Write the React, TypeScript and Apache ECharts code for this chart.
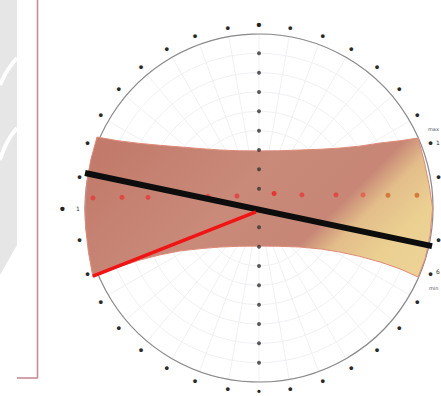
import React, { useEffect, useRef } from "react";
import * as echarts from "echarts";

// Band boundaries (data units, circle radius = 9)
const bandTop: number[][] = [
  [-8.38, 3.67], [-7.3, 3.48], [-6.16, 3.34], [-5.1, 3.24], [-4.09, 3.16], [-3.0, 3.07], [-2.02, 3.0], [-1.0, 2.96], [0, 2.95],
  [1.0, 2.96], [2.12, 3.0], [3.2, 3.04], [4.19, 3.1], [5.2, 3.2], [6.26, 3.36], [7.3, 3.48], [8.23, 3.62],
];
const bandRightEdge: number[][] = [[8.55, 2.4], [8.8, 1.2], [8.98, 0], [8.85, -1.4], [8.6, -2.6]];
const bandBottom: number[][] = [
  [8.23, -3.57], [7.3, -3.15], [6.26, -2.79], [5.2, -2.5], [4.19, -2.28], [3.2, -2.12], [2.12, -2.02], [1.0, -1.98], [0, -1.97],
  [-1.0, -1.98], [-2.02, -2.02], [-3.0, -2.1], [-4.09, -2.22], [-5.1, -2.42], [-6.16, -2.69], [-7.4, -3.1], [-8.59, -3.57],
];
const bandLeftEdge: number[][] = [[-8.82, -2.3], [-8.97, -1.0], [-9.0, 0], [-8.92, 1.2], [-8.7, 2.5]];

// Lines
const blackLine: number[][] = [[-9.0, 1.81], [8.95, -1.97]];
const redLine: number[][] = [[-8.59, -3.52], [-0.16, -0.2]];

// Red points
const redPointX = [-8.59, -7.09, -5.74, -2.64, -1.14, 0.78, 2.22, 3.98, 5.38, 6.67, 8.17];
const redPointY = [0.52, 0.55, 0.55, 0.6, 0.62, 0.75, 0.68, 0.68, 0.68, 0.66, 0.66];
const redPointColor = ["#e63a3a", "#e63a3a", "#e63a3a", "#e63a3a", "#e63a3a", "#ee2020", "#e63a3a", "#e63a3a", "#e25a4a", "#cf6a2a", "#cf6a2a"];

// Centre axis tick dots
const axisDots = [-8, -7, -6, -5, -4, -3, -2, -1, 1, 2, 3, 4, 5, 6, 7, 8];

// Outer angle labels
const angleLabelText = "•";
const hiddenAngles = [90, 360];

export default function App() {
  const ref = useRef<HTMLDivElement>(null);
  useEffect(() => {
    if (!ref.current) return;
    const chart = echarts.init(ref.current, null, { renderer: "svg" });
    const cx = 259, cy = 208, R = 174;
    const gradient = new echarts.graphic.LinearGradient(150, 100, 450, 400, [
      { offset: 0, color: "#c27a6a" },
      { offset: 0.3, color: "#c98a7a" },
      { offset: 0.49, color: "#c78676" },
      { offset: 0.55, color: "#e3bd8a" },
      { offset: 0.64, color: "#ebd092" },
      { offset: 1, color: "#efd9a0" },
    ], true);
    chart.setOption({
      animation: false,
      backgroundColor: "#ffffff",
      polar: { center: [cx, cy], radius: R },
      angleAxis: {
        type: "value", min: 0, max: 360, interval: 10, startAngle: 90, clockwise: true,
        axisLine: { show: true, lineStyle: { color: "#8a8a8a", width: 1.2 } },
        axisTick: { show: false },
        splitLine: { show: true, lineStyle: { color: "#ececf2", width: 0.8 } },
        axisLabel: {
          show: true, margin: 6, color: "#2a2a2a", fontSize: 13, fontWeight: "bold", lineHeight: 7,
          formatter: (v: number) => {
            if (hiddenAngles.indexOf(v) >= 0) return "";
            if (v === 270) return "{w|" + angleLabelText + "}";
            if (v === 0) return "{c|" + angleLabelText + "}";
            if (v === 180) return "{s|" + angleLabelText + "}";
            return angleLabelText;
          },
          rich: {
            c: { fontSize: 15, fontWeight: "bold", color: "#222", lineHeight: 8 },
            w: { fontSize: 15, fontWeight: "bold", color: "#222", lineHeight: 8, padding: [0, 14, 0, 0] },
            s: { fontSize: 11, fontWeight: "bold", color: "#222", lineHeight: 6 },
          },
        },
      },
      radiusAxis: {
        type: "value", min: 0, max: 9, interval: 1,
        axisLine: { show: false }, axisTick: { show: false }, axisLabel: { show: false },
        splitLine: { show: true, lineStyle: { color: "#ececf2", width: 0.8 } },
      },
      grid: { left: cx - R, top: cy - R, width: 2 * R, height: 2 * R, containLabel: false },
      xAxis: { type: "value", min: -9, max: 9, show: false },
      yAxis: { type: "value", min: -9, max: 9, show: false },
      graphic: [
        { type: "polygon", shape: { points: [[0, 0], [17, 0], [17, 245], [0, 275]] }, style: { fill: "#e6e6e6" }, z: -1 },
        { type: "bezierCurve", shape: { x1: 0, y1: 85, x2: 17, y2: 58, cpx1: 6, cpy1: 70 }, style: { stroke: "#ffffff", lineWidth: 4, fill: null } },
        { type: "bezierCurve", shape: { x1: 0, y1: 160, x2: 17, y2: 128, cpx1: 6, cpy1: 140 }, style: { stroke: "#ffffff", lineWidth: 4, fill: null } },
        { type: "line", shape: { x1: 37.5, y1: 0, x2: 37.5, y2: 378 }, style: { stroke: "#c98a98", lineWidth: 1.6 } },
        { type: "line", shape: { x1: 17, y1: 378, x2: 38, y2: 378 }, style: { stroke: "#c98a98", lineWidth: 1.6 } },
        { type: "text", x: 428, y: 126, style: { text: "max", fontSize: 5, fill: "#556", fontFamily: "DejaVu Sans" } },
        { type: "text", x: 436, y: 139, style: { text: "1", fontSize: 6, fill: "#333", fontFamily: "DejaVu Sans" } },
        { type: "text", x: 436, y: 268, style: { text: "6", fontSize: 6, fill: "#333", fontFamily: "DejaVu Sans" } },
        { type: "text", x: 429, y: 285, style: { text: "min", fontSize: 5, fill: "#556", fontFamily: "DejaVu Sans" } },
        { type: "text", x: 76, y: 205, style: { text: "1", fontSize: 6, fill: "#333", fontFamily: "DejaVu Sans" } },
      ],
      series: [
        {
          type: "custom",
          coordinateSystem: "cartesian2d",
          data: [[0, 0]],
          z: 2,
          renderItem: (_params: any, api: any) => {
            const pts = [...bandTop, ...bandRightEdge, ...bandBottom, ...bandLeftEdge].map((p) => api.coord(p));
            return {
              type: "polygon",
              shape: { points: pts },
              style: { fill: gradient, stroke: "#e08a78", lineWidth: 1 },
            };
          },
        },
        {
          type: "scatter",
          coordinateSystem: "cartesian2d",
          data: axisDots.map((v) => [0, v]),
          symbol: "circle",
          symbolSize: 4,
          itemStyle: { color: "#333" },
          z: 3,
        },
        {
          type: "scatter",
          coordinateSystem: "cartesian2d",
          data: redPointX.map((x, i) => ({ value: [x, redPointY[i]], itemStyle: { color: redPointColor[i] } })),
          symbol: "circle",
          symbolSize: 5,
          z: 4,
        },
        {
          type: "line",
          coordinateSystem: "cartesian2d",
          data: blackLine,
          symbol: "none",
          lineStyle: { color: "#0d0d0d", width: 6 },
          z: 5,
        },
        {
          type: "line",
          coordinateSystem: "cartesian2d",
          data: redLine,
          symbol: "none",
          lineStyle: { color: "#f01414", width: 3.5 },
          z: 6,
        },
      ],
    });
    return () => chart.dispose();
  }, []);
  return <div ref={ref} style={{ position: "fixed", left: 0, top: 0, width: 441, height: 396 }} />;
}
